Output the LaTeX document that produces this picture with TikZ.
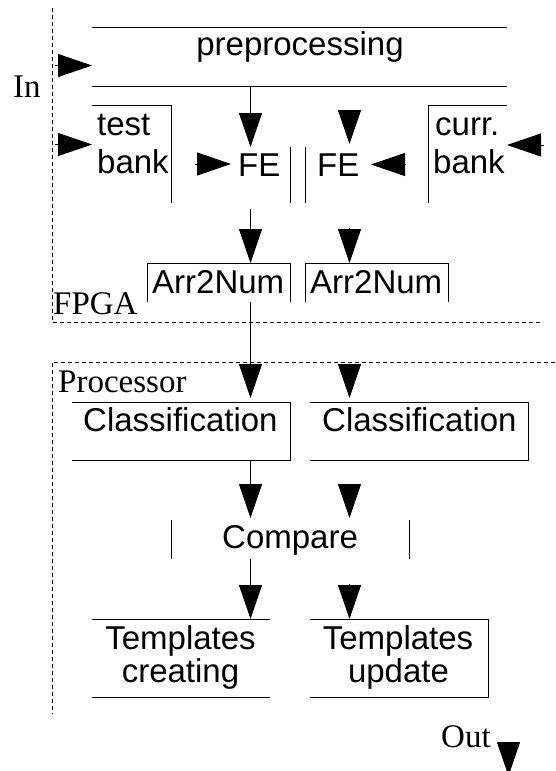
\documentclass[tikz,border=0pt]{standalone}
\usepackage{fontspec}
\setmainfont{Liberation Serif}
\newfontfamily\sansf{Liberation Sans}
\usetikzlibrary{arrows.meta}
\begin{document}
\begin{tikzpicture}[x=1pt,y=-1pt,
  box/.style={inner sep=0pt, outer sep=0pt},
  ln/.style={line width=1pt},
  dsh/.style={line width=1pt, dash pattern=on 4pt off 3pt},
  tri/.style={line width=1pt, -{Triangle[length=34pt,width=23pt]}},
  lbl/.style={inner sep=0pt, anchor=base west, font=\sansf\fontsize{33pt}{33pt}\selectfont},
  lblc/.style={lbl, anchor=base},
  slbl/.style={inner sep=0pt, anchor=base west, font=\rmfamily\fontsize{33pt}{33pt}\selectfont}]
\useasboundingbox (0,0) rectangle (555,771);

% boxes
\node[box, minimum width=415pt, minimum height=59pt] (pre) at (299.5,56.5) {};
\node[box, minimum width=79pt, minimum height=98pt] (tb) at (131.5,154) {};
\node[box, minimum width=79pt, minimum height=98pt] (cb) at (467.5,154) {};
\node[box, minimum width=59pt, minimum height=56pt] (fe1b) at (260.5,175) {};
\node[box, minimum width=66pt, minimum height=56pt] (fe2b) at (338,175) {};
\node[box, minimum width=143pt, minimum height=39pt] (a1) at (218.5,282.5) {};
\node[box, minimum width=143pt, minimum height=39pt] (a2) at (376.5,282.5) {};
\node[box, minimum width=218pt, minimum height=58pt] (c1) at (181,431) {};
\node[box, minimum width=218pt, minimum height=58pt] (c2) at (419,431) {};
\node[box, minimum width=238pt, minimum height=39pt] (cmp) at (290,539.5) {};
\node[box, minimum width=178pt, minimum height=78pt] (t1) at (181,658) {};
\node[box, minimum width=178pt, minimum height=78pt] (t2) at (399,658) {};
\node[box, minimum width=491pt, minimum height=314pt] (fpga) at (297.5,165) {};
\node[box, minimum width=503pt, minimum height=352pt] (proc) at (303.5,538) {};

% partial borders
\draw[ln] (pre.north west) -- (pre.north east) (pre.south west) -- (pre.south east);
\draw[ln] (tb.north west) -- (tb.north east) -- (tb.south east);
\draw[ln] (cb.north east) -- (cb.north west) -- (cb.south west);
\draw[ln] (fe1b.north east) -- (fe1b.south east);
\draw[ln] (fe2b.north west) -- (fe2b.south west);
\draw[ln] (a1.south west) -- (a1.north west) -- (a1.north east) -- (a1.south east);
\draw[ln] (a2.south west) -- (a2.north west) -- (a2.north east) -- (a2.south east);
\draw[ln] (c1.north west) -- (c1.north east) -- (c1.south east) -- (c1.south west);
\draw[ln] (c2.north west) -- (c2.north east) -- (c2.south east) -- (c2.south west);
\draw[ln] (cmp.north west) -- (cmp.south west) (cmp.north east) -- (cmp.south east);
\draw[ln] (t1.north west) -- (t1.north east) (t1.south west) -- (t1.south east);
\draw[ln] (t2.north west) -- (t2.north east) -- (t2.south east) -- (t2.south west);
\draw[dsh] (fpga.north west) -- (fpga.south west) -- (fpga.south east);
\draw[dsh] (proc.north east) -- (proc.north west) -- (proc.south west);

% labels
\node[slbl] (inl) at (13,97) {In};
\node[lblc] (prel) at (300,55) {preprocessing};
\node[lbl] (tbl1) at (97,135) {test};
\node[lbl] (tbl2) at (97,173) {bank};
\node[lbl] (cbl1) at (435,135) {curr.};
\node[lbl] (cbl2) at (433,173) {bank};
\node[lbl] (fe1) at (238,176) {FE};
\node[lbl] (fe2) at (317,176) {FE};
\node[lbl] (a1l) at (152,293) {Arr2Num};
\node[lbl] (a2l) at (310,293) {Arr2Num};
\node[slbl] (fpgal) at (53,314) {FPGA};
\node[slbl] (procl) at (58,392) {Processor};
\node[lbl] (c1l) at (83,431) {Classification};
\node[lbl] (c2l) at (322,431) {Classification};
\node[lbl] (cmpl) at (222,548) {Compare};
\node[lblc] (t1l1) at (180.5,649) {Templates};
\node[lblc] (t1l2) at (180.5,682) {creating};
\node[lblc] (t2l1) at (398,649) {Templates};
\node[lblc] (t2l2) at (398.5,682) {update};
\node[slbl] (outl) at (441,747) {Out};

% arrows
\coordinate (colL) at (250.5,0);
\coordinate (colR) at (349.5,0);
\coordinate (in1) at (55,65.5);
\coordinate (in2) at (55,144.5);
\coordinate (fe1in) at (195,164);
\coordinate (fe2top) at (349.5,110);
\coordinate (fe2topend) at (349.5,144);
\coordinate (fe2in) at (405,164.5);
\coordinate (cbin) at (544,145);
\coordinate (fe1out) at (250.5,209);
\coordinate (a2top) at (349.5,228);
\coordinate (c2top) at (349.5,364);
\coordinate (cmptop) at (349.5,484);
\coordinate (t2top) at (349.5,584);
\coordinate (outs) at (508.5,742);
\coordinate (oute) at (508.5,776);

\draw[tri] (in1) -- (in1 -| pre.west);
\draw[tri] (in2) -- (in2 -| tb.west);
\draw[tri] (colL |- pre.south) -- (colL |- fe1b.north);
\draw[tri] (fe1in) -- (fe1in -| fe1b.west);
\draw[tri] (fe2top) -- (fe2topend);
\draw[tri] (fe2in) -- (fe2in -| fe2b.east);
\draw[tri] (cbin) -- (cbin -| cb.east);
\draw[tri] (fe1out) -- (colL |- a1.north);
\draw[tri] (a2top) -- (colR |- a2.north);
\draw[tri, shorten >=4pt] (colL |- a1.south) -- (colL |- c1.north);
\draw[tri, shorten >=4pt] (c2top) -- (colR |- c2.north);
\draw[tri, shorten >=2pt] (colL |- c1.south) -- (colL |- cmp.north);
\draw[tri, shorten >=2pt] (cmptop) -- (colR |- cmp.north);
\draw[tri] (colL |- cmp.south) -- (colL |- t1.north);
\draw[tri] (t2top) -- (colR |- t2.north);
\draw[tri] (outs) -- (oute);
\end{tikzpicture}
\end{document}
